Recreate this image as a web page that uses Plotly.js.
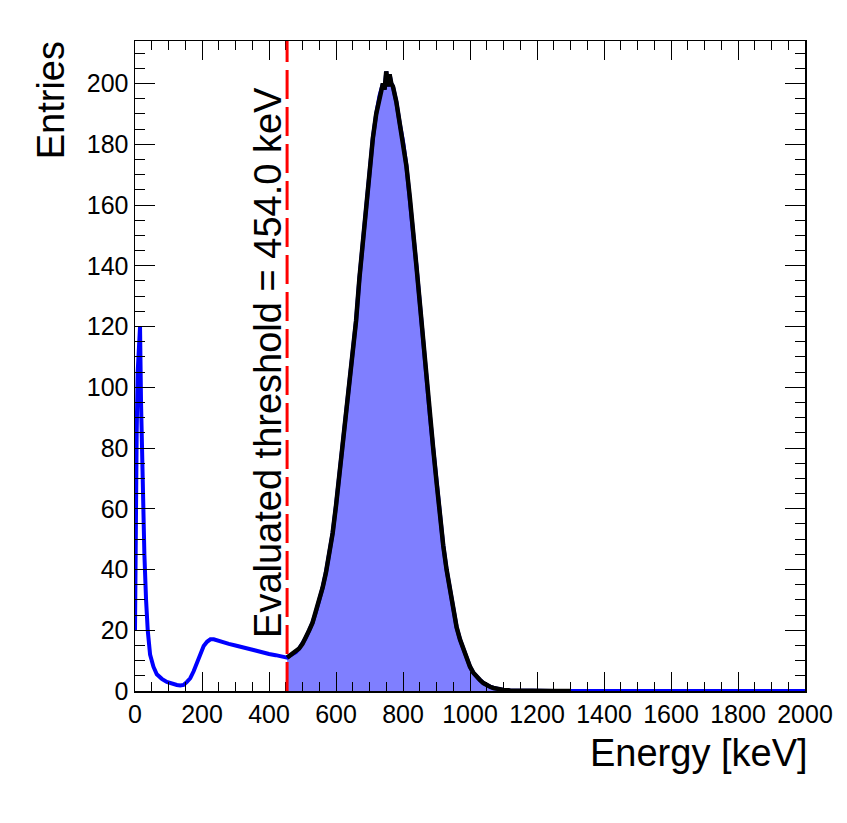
<!DOCTYPE html>
<html>
<head>
<meta charset="utf-8">
<script src="https://cdn.plot.ly/plotly-3.0.1.min.js"></script>
<style>
  html, body { margin: 0; padding: 0; background: white; }
  #chart { width: 847px; height: 823px; }
</style>
</head>
<body>
<div id="chart"></div>
<script>
// Energy spectrum (keV, entries per bin)
const energy = [
  0, 2, 5, 8, 12, 15, 18, 21, 24, 28, 33, 38, 45, 55, 65, 80, 95, 110, 125, 135, 145,
  155, 165, 175, 185, 195, 205, 215, 225, 235, 245, 260, 280, 300, 320, 340, 360, 380,
  400, 420, 440, 454, 460, 470, 480, 490, 500, 510, 520, 530, 540, 550, 560, 570, 580,
  590, 600, 610, 620, 630, 640, 650, 660, 670, 680, 690, 700, 710, 720, 730, 740, 745,
  750, 755, 760, 765, 770, 780, 790, 800, 810, 820, 830, 840, 850, 860, 870, 880, 890,
  900, 910, 920, 930, 940, 950, 960, 970, 980, 990, 1000, 1010, 1020, 1030, 1040, 1050,
  1060, 1070, 1080, 1090, 1100, 1120, 1150, 1200, 1250, 1300, 1500, 1700, 2000
];
const counts = [
  20, 54, 85, 105, 118, 120, 95, 75, 62, 45, 30, 20, 12, 8, 5.5, 4, 3, 2.4, 2, 1.8, 2,
  3, 4.2, 6.5, 9.5, 12.5, 14.8, 16.2, 17, 17, 16.6, 16, 15.5, 15, 14.4, 13.8, 13.2, 12.6,
  12.2, 11.8, 11.3, 11, 11.5, 12, 12.8, 14, 15.5, 17.5, 20, 22.5, 26, 29.5, 34, 39, 45,
  52, 61, 71, 80, 89, 99, 110, 122, 136, 148, 160, 173, 182, 190, 196, 200, 198,
  204, 199, 203, 200, 199, 194, 187, 181, 173, 163, 153, 140, 128, 115, 102, 91, 80,
  69, 58, 48, 40, 33, 26.5, 21, 17, 14, 10.5, 8, 6, 4.6, 3.6, 2.6, 1.9,
  1.4, 1, 0.7, 0.5, 0.35, 0.2, 0.1, 0.05, 0, 0, 0, 0, 0
];

const threshold = 454.0;
const blackEnd = 1300;

// part of the spectrum above the threshold
const selE = [], selN = [];
for (let i = 0; i < energy.length; i++) {
    if (energy[i] >= threshold && energy[i] <= blackEnd) {
        selE.push(energy[i]);
        selN.push(counts[i]);
    }
}

const traceAll = {
    x: energy, y: counts,
    type: 'scatter', mode: 'lines',
    line: { color: '#0000ff', width: 4 },
    hoverinfo: 'skip'
};

const traceFill = {
    x: selE, y: selN,
    type: 'scatter', mode: 'lines',
    fill: 'tozeroy',
    fillcolor: 'rgba(0,0,255,0.5)',
    line: { width: 0 },
    hoverinfo: 'skip'
};

const traceSel = {
    x: selE, y: selN,
    type: 'scatter', mode: 'lines',
    line: { color: '#000000', width: 4.5 },
    hoverinfo: 'skip'
};

const font = 'Liberation Sans, Arial, sans-serif';

const axisCommon = {
    showgrid: false,
    zeroline: false,
    showline: true,
    linecolor: 'black',
    linewidth: 1.5,
    mirror: 'allticks',
    ticks: 'inside',
    tickcolor: 'black',
    tickwidth: 1,
    tickfont: { family: font, size: 25, color: 'black' }
};

const layout = {
    width: 847,
    height: 823,
    margin: { l: 135, r: 42, t: 41, b: 132 },
    paper_bgcolor: 'white',
    plot_bgcolor: 'white',
    showlegend: false,
    xaxis: Object.assign({}, axisCommon, {
        range: [0, 2000],
        dtick: 200,
        ticklen: 19,
        minor: { dtick: 50, ticklen: 9, ticks: 'inside', tickcolor: 'black', tickwidth: 1 }
    }),
    yaxis: Object.assign({}, axisCommon, {
        range: [0, 214],
        dtick: 20,
        ticklen: 20,
        minor: { dtick: 5, ticklen: 10, ticks: 'inside', tickcolor: 'black', tickwidth: 1 }
    }),
    shapes: [{
        type: 'line',
        xref: 'x', yref: 'paper',
        x0: threshold, x1: threshold, y0: 0, y1: 1,
        line: { color: '#ff0000', width: 3, dash: '29px,8px' }
    }],
    annotations: [
        {
            text: 'Energy [keV]',
            xref: 'paper', yref: 'paper',
            x: 1.007, y: -0.096, xanchor: 'right', yanchor: 'middle',
            showarrow: false,
            font: { family: font, size: 38, color: 'black' }
        },
        {
            text: 'Entries',
            xref: 'paper', yref: 'paper',
            x: -0.125, y: 1.003, xanchor: 'center', yanchor: 'top',
            textangle: -90,
            showarrow: false,
            font: { family: font, size: 38, color: 'black' }
        },
        {
            text: 'Evaluated threshold = ' + threshold.toFixed(1) + ' keV',
            xref: 'x', yref: 'y',
            x: 397, y: 108, xanchor: 'center', yanchor: 'middle',
            textangle: -90,
            showarrow: false,
            font: { family: font, size: 38, color: 'black' }
        }
    ]
};

Plotly.newPlot('chart', [traceAll, traceFill, traceSel], layout, { displayModeBar: false, staticPlot: true });
</script>
</body>
</html>
